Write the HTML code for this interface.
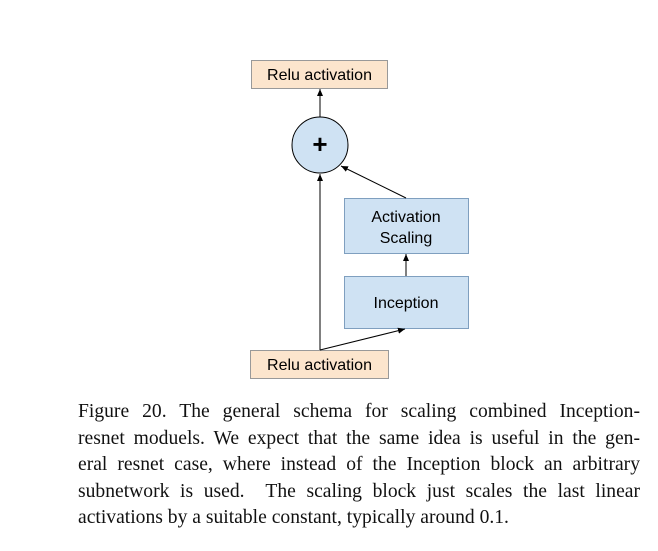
<!DOCTYPE html>
<html><head><style>
body{margin:0;background:#fff;width:658px;height:551px;overflow:hidden;position:relative}
.cap{position:absolute;left:78px;top:399px;width:562px;font-family:"Liberation Serif",serif;font-size:19.6px;line-height:26.6px;color:#111}
.cap div{text-align:justify;text-align-last:justify;white-space:nowrap;height:26.6px}
.cap div.l{text-align-last:left}
</style></head><body>
<svg width="658" height="551" style="position:absolute;left:0;top:0" font-family="Liberation Sans, sans-serif">
<defs><marker id="a" markerWidth="8" markerHeight="8" refX="7" refY="4" orient="auto" markerUnits="userSpaceOnUse"><path d="M0,1 L7,4 L0,7z" fill="#000"/></marker></defs>
<rect x="251.5" y="60.5" width="136" height="28" fill="#fce5cd" stroke="#999"/>
<text x="319.5" y="80" font-size="16" text-anchor="middle">Relu activation</text>
<rect x="250.5" y="350.5" width="138" height="28" fill="#fce5cd" stroke="#999"/>
<text x="319.5" y="370" font-size="16" text-anchor="middle">Relu activation</text>
<rect x="344.5" y="198.5" width="124" height="55" fill="#cfe2f3" stroke="#7f9fbf"/>
<text x="406" y="222" font-size="16" text-anchor="middle">Activation</text>
<text x="406" y="243" font-size="16" text-anchor="middle">Scaling</text>
<rect x="344.5" y="276.5" width="124" height="52" fill="#cfe2f3" stroke="#7f9fbf"/>
<text x="406" y="308" font-size="16" text-anchor="middle">Inception</text>
<circle cx="320" cy="145" r="28" fill="#cfe2f3" stroke="#000"/>
<text x="320" y="153" font-size="26" font-weight="bold" text-anchor="middle">+</text>
<line x1="320" y1="117" x2="320" y2="89" stroke="#000" marker-end="url(#a)"/>
<line x1="320" y1="350" x2="320" y2="174" stroke="#000" marker-end="url(#a)"/>
<line x1="320" y1="350" x2="405" y2="329" stroke="#000" marker-end="url(#a)"/>
<line x1="406" y1="276" x2="406" y2="254" stroke="#000" marker-end="url(#a)"/>
<line x1="406" y1="198" x2="341" y2="166" stroke="#000" marker-end="url(#a)"/>
</svg>
<div class="cap">
<div>Figure 20. The general schema for scaling combined Inception-</div>
<div>resnet moduels. We expect that the same idea is useful in the gen-</div>
<div>eral resnet case, where instead of the Inception block an arbitrary</div>
<div>subnetwork is used.&nbsp; The scaling block just scales the last linear</div>
<div class="l">activations by a suitable constant, typically around 0.1.</div>
</div>
</body></html>
